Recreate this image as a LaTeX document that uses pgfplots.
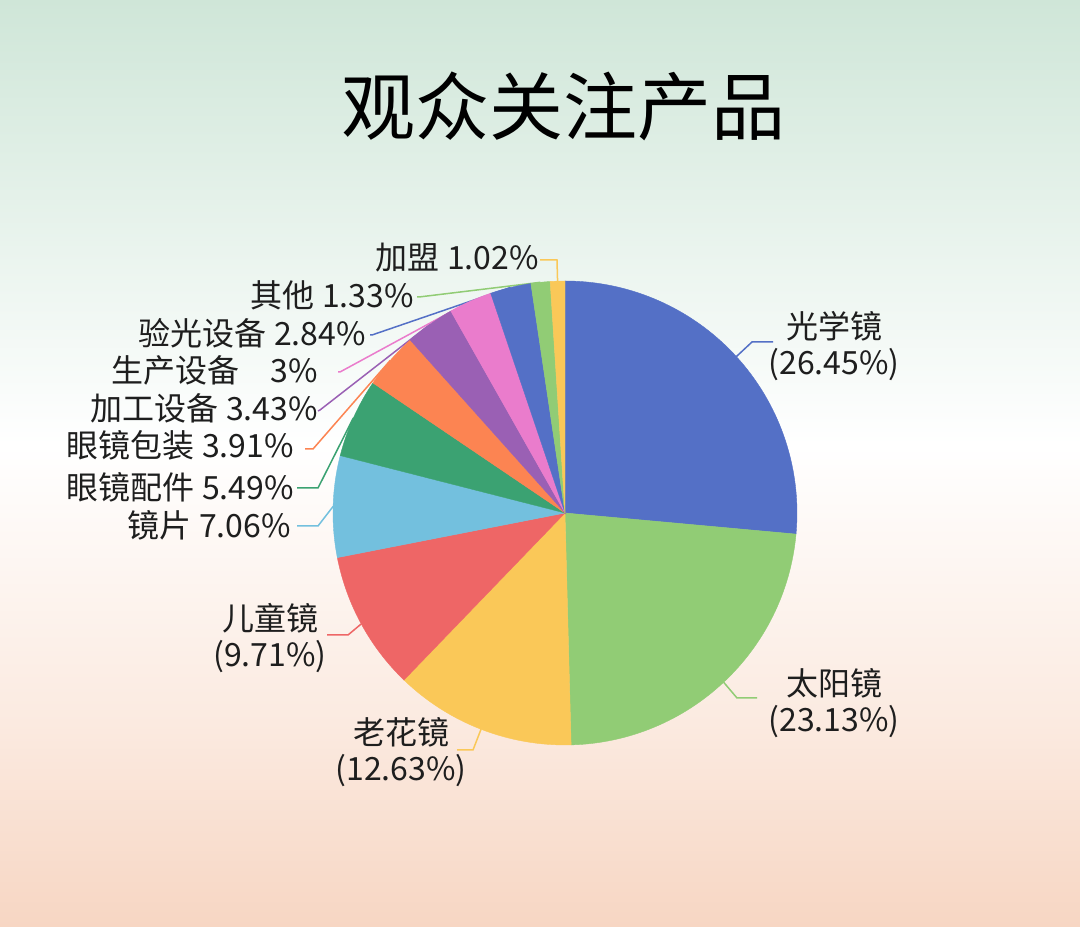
\documentclass[border=0pt]{standalone}
\usepackage{pgfplots}
\pgfplotsset{compat=1.18}
\usepackage{fontspec}
\setmainfont{Noto Sans CJK SC}

% echarts palette
\definecolor{c1}{HTML}{5470C6}
\definecolor{c2}{HTML}{91CC75}
\definecolor{c3}{HTML}{FAC858}
\definecolor{c4}{HTML}{EE6666}
\definecolor{c5}{HTML}{73C0DE}
\definecolor{c6}{HTML}{3BA272}
\definecolor{c7}{HTML}{FC8452}
\definecolor{c8}{HTML}{9A60B4}
\definecolor{c9}{HTML}{EA7CCC}
\definecolor{txt}{HTML}{1E1E1E}

\definecolor{bgtop}{HTML}{CFE6D8}
\definecolor{bgmid}{HTML}{FBEAE0}
\definecolor{bgbot}{HTML}{F7D6C3}
% the path box maps onto 25bp..75bp of the shading
\pgfdeclareverticalshading{bg}{100bp}{color(0bp)=(bgbot); color(25bp)=(bgbot); color(36bp)=(bgmid); color(51bp)=(white); color(75bp)=(bgtop); color(100bp)=(bgtop)}

\begin{document}
\begin{tikzpicture}
\path[use as bounding box] (0,0) rectangle (1080pt,927pt);
\shade[shading=bg] (0,0) rectangle (1080pt,927pt);
\node[text=black, font=\fontsize{74}{80}\selectfont] at (563pt,821pt) {观众关注产品};

\begin{axis}[
    hide axis,
    x=1pt, y=1pt,
    xmin=0, xmax=1080,
    ymin=0, ymax=927,
    at={(0pt,0pt)}, anchor=south west,
    clip=false,
    enlargelimits=false,
]
    \pgfplotsextra{
        % leader lines: value/colour/elbow x,y/end x,y (y measured from top)
        \gdef\angstart{90}
        \foreach \v/\col/\ex/\ey/\fx/\fy in {
            26.45/c1/752/342/773/342,
            23.13/c2/737/698/757/698,
            12.63/c3/473/750/457/750,
            9.71/c4/348/635/327/635,
            7.06/c5/318/526/297/526,
            5.49/c6/318/488/297/488,
            3.91/c7/313/449/305/449,
            3.43/c8/320/410/318/411,
            3/c9/340/372/338/372,
            2.84/c1/372/335/370/335,
            1.33/c2/419/297/417/297,
            1.02/c3/557/260/540/260}{
            \pgfmathsetmacro\angmid{\angstart-1.8*\v}
            \pgfmathsetmacro\angend{\angstart-3.6*\v}
            \draw[color=\col, line width=1.5pt] (axis cs:565,414) ++(\angmid:232pt)
                -- (axis cs:\ex,{927-\ey}) -- (axis cs:\fx,{927-\fy});
            \global\let\angstart\angend
        }
        % slices, clockwise from 12 o'clock
        \gdef\angstart{90}
        \foreach \v/\col in {26.45/c1, 23.13/c2, 12.63/c3, 9.71/c4, 7.06/c5, 5.49/c6,
                             3.91/c7, 3.43/c8, 3/c9, 2.84/c1, 1.33/c2, 1.02/c3}{
            \pgfmathsetmacro\angend{\angstart-3.6*\v}
            \filldraw[fill=\col, draw=\col, line width=0.4pt] (axis cs:565,414) -- ++(\angstart:232pt)
                arc[start angle=\angstart, end angle=\angend, radius=232pt] -- cycle;
            \global\let\angstart\angend
        }
    }

    \begin{scope}[every node/.style={text=txt, inner sep=0pt, font=\fontsize{32}{36}\selectfont}]
        \node[align=center] at (axis cs:834,{927-346}) {光学镜\\(26.45\%)};
        \node[align=center] at (axis cs:834,{927-703}) {太阳镜\\(23.13\%)};
        \node[align=center] at (axis cs:401,{927-752}) {老花镜\\(12.63\%)};
        \node[align=center] at (axis cs:270,{927-638}) {儿童镜\\(9.71\%)};
        \node[anchor=east] at (axis cs:291,{927-525}) {镜片 7.06\%};
        \node[anchor=east] at (axis cs:294,{927-487}) {眼镜配件 5.49\%};
        \node[anchor=east] at (axis cs:294,{927-445}) {眼镜包装 3.91\%};
        \node[anchor=east] at (axis cs:318,{927-408}) {加工设备 3.43\%};
        \node[anchor=east] at (axis cs:318,{927-370}) {生产设备\hspace{0.75em} 3\%};
        \node[anchor=east] at (axis cs:366,{927-333}) {验光设备 2.84\%};
        \node[anchor=east] at (axis cs:414,{927-295}) {其他 1.33\%};
        \node[anchor=east] at (axis cs:539,{927-258}) {加盟 1.02\%};
    \end{scope}
\end{axis}
\end{tikzpicture}
\end{document}
